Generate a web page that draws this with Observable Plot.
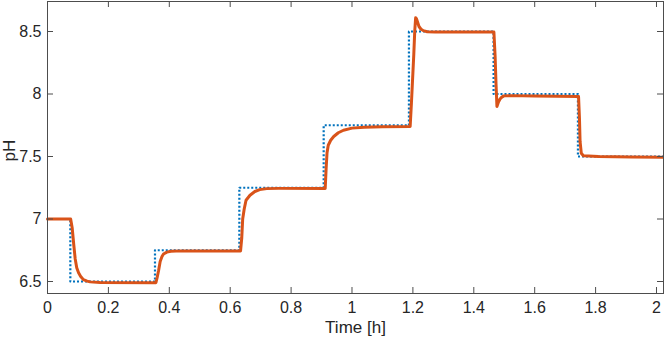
<!DOCTYPE html>
<html><head><meta charset="utf-8">
<script src="https://cdn.jsdelivr.net/npm/d3@7"></script>
<script src="https://cdn.jsdelivr.net/npm/@observablehq/plot@0.6"></script>
<style>
body{margin:0;background:#fff}
#chart svg{display:block;font-family:"Liberation Sans",Arial,sans-serif}
</style>
</head><body><div id="chart"></div>
<script>
// Setpoint (step changes), hours / pH
const spTime = [0, 0.075, 0.353, 0.630, 0.907, 1.187, 1.465, 1.742, 2.023];
const spPH   = [7.0, 6.5, 6.75, 7.25, 7.75, 8.5, 8.0, 7.5, 7.5];

// Measured / simulated response
const respTime = [
  0, 0.076, 0.081, 0.086, 0.091, 0.096, 0.102, 0.109, 0.118, 0.130, 0.140, 0.173,
  0.356, 0.360, 0.365, 0.370, 0.376, 0.381, 0.392, 0.405, 0.440,
  0.634, 0.638, 0.641, 0.646, 0.652, 0.665, 0.681, 0.697, 0.720, 0.760,
  0.912, 0.915, 0.918, 0.922, 0.930, 0.940, 0.955, 0.972, 1.000, 1.040, 1.100,
  1.191, 1.195, 1.199, 1.203, 1.206, 1.209, 1.212, 1.216, 1.220, 1.226, 1.234, 1.247, 1.273,
  1.466, 1.470, 1.473, 1.476, 1.481, 1.486, 1.492, 1.499, 1.520, 1.600,
  1.744, 1.747, 1.749, 1.753, 1.760, 1.809, 1.919, 2.023
];
const respPH = [
  7.0, 7.0, 6.93, 6.80, 6.68, 6.61, 6.57, 6.54, 6.515, 6.503, 6.497, 6.492,
  6.49, 6.53, 6.59, 6.66, 6.70, 6.72, 6.735, 6.742, 6.745,
  6.745, 6.85, 7.0, 7.08, 7.15, 7.19, 7.22, 7.235, 7.243, 7.245,
  7.245, 7.40, 7.53, 7.59, 7.63, 7.66, 7.69, 7.71, 7.727, 7.734, 7.738,
  7.74, 7.92, 8.12, 8.32, 8.50, 8.61, 8.60, 8.57, 8.54, 8.52, 8.507, 8.498, 8.496,
  8.496, 8.30, 8.08, 7.90, 7.935, 7.96, 7.975, 7.985, 7.987, 7.984,
  7.98, 7.805, 7.62, 7.526, 7.506, 7.50, 7.496, 7.494
];

const xTicks = [0, 0.2, 0.4, 0.6, 0.8, 1, 1.2, 1.4, 1.6, 1.8, 2];
const yTicks = [6.5, 7, 7.5, 8, 8.5];
const xLabel = "Time [h]";
const yLabel = "pH";

const sp = spTime.map((t, i) => ({t, v: spPH[i]}));
const resp = respTime.map((t, i) => ({t, v: respPH[i]}));

const W = 664, H = 341, mL = 47, mR = 1, mT = 1, mB = 48;
const fw = W - mL - mR, fh = H - mT - mB, tl = 6;
const axisColor = "#4d4d4d", textColor = "#262626";

const chart = Plot.plot({
  width: W, height: H,
  marginLeft: mL, marginRight: mR, marginTop: mT, marginBottom: mB,
  style: {fontSize: "16px", fontFamily: "'Liberation Sans', Arial, sans-serif", color: textColor, background: "#fff"},
  x: {domain: [0, 2.023]},
  y: {domain: [6.404, 8.74]},
  marks: [
    Plot.line(sp, {x: "t", y: "v", curve: "step-after", stroke: "#0072BD", strokeWidth: 2.2, strokeDasharray: "2,2", strokeLinecap: "butt"}),
    Plot.line(resp, {x: "t", y: "v", stroke: "#D95319", strokeWidth: 3, strokeLinejoin: "round"}),
    Plot.frame({stroke: axisColor, strokeWidth: 1}),
    Plot.tickX(xTicks, {x: d => d, insetTop: fh - tl, stroke: axisColor}),
    Plot.tickX(xTicks, {x: d => d, insetBottom: fh - tl, stroke: axisColor}),
    Plot.tickY(yTicks, {y: d => d, insetRight: fw - tl, stroke: axisColor}),
    Plot.tickY(yTicks, {y: d => d, insetLeft: fw - tl, stroke: axisColor}),
    Plot.axisX(xTicks, {tickSize: 0, tickPadding: 8, tickFormat: d => String(d), fill: textColor, label: null}),
    Plot.axisY(yTicks, {tickSize: 0, tickPadding: 6, tickFormat: d => String(d), fill: textColor, label: null}),
    Plot.text([xLabel], {text: d => d, frameAnchor: "bottom", dy: 39, fontSize: 17, fill: textColor}),
    Plot.text([yLabel], {text: d => d, frameAnchor: "left", rotate: -90, dx: -38, dy: 14, fontSize: 17, fill: textColor})
  ]
});
document.getElementById("chart").appendChild(chart);
</script>
</body></html>
